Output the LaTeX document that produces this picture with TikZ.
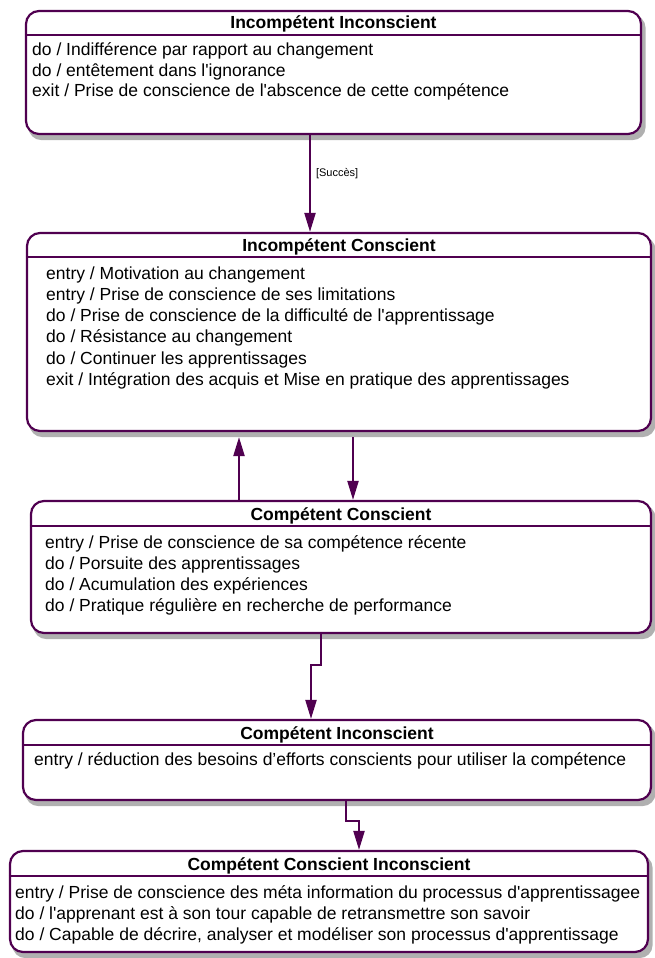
\documentclass[tikz,border=0pt]{standalone}
\usepackage{fontspec}
\setmainfont{Liberation Sans}[Ligatures=TeXOff]
\usetikzlibrary{arrows.meta,backgrounds}

\definecolor{umlline}{RGB}{80,0,80}
\definecolor{umlshadow}{RGB}{176,176,176}

\tikzset{
  state/.style={draw=umlline, line width=2.2pt, fill=white, rounded corners=13pt,
    inner sep=0pt},
  stateshadow/.style={fill=umlshadow, rounded corners=13pt},
  statetitle/.style={anchor=base, inner sep=0pt, font=\fontsize{17.5}{21}\selectfont\bfseries},
  activity/.style={anchor=base west, inner sep=0pt, font=\fontsize{17.5}{21}\selectfont},
  divider/.style={draw=umlline, line width=2.2pt},
  trans/.style={draw=umlline, line width=2.2pt, -{Triangle[length=19pt,width=11pt]}},
  guard/.style={inner sep=0pt, font=\fontsize{11}{13}\selectfont}
}

\begin{document}
\begin{tikzpicture}[x=1pt,y=-1pt]
\useasboundingbox (0,0) rectangle (654,958);

% ---------- states ----------
\node[state, minimum width=615pt, minimum height=123pt] (s1) at (333.5,72.5) {};
\node[state, minimum width=624pt, minimum height=198pt] (s2) at (339,332) {};
\node[state, minimum width=620pt, minimum height=132pt] (s3) at (341,567) {};
\node[state, minimum width=628pt, minimum height=80pt]  (s4) at (337,760) {};
\node[state, minimum width=638pt, minimum height=101pt] (s5) at (329,901.5) {};

% drop shadows behind every state
\begin{scope}[on background layer]
  \foreach \s in {s1,s2,s3,s4,s5}
    \fill[stateshadow] ([shift={(3.5pt,-5pt)}]\s.south west) rectangle ([shift={(3.5pt,-5pt)}]\s.north east);
\end{scope}

% ---------- title compartments ----------
\coordinate (h1) at (0,35);
\coordinate (h2) at (0,257);
\coordinate (h3) at (0,526);
\coordinate (h4) at (0,745);
\coordinate (h5) at (0,876);
\draw[divider] (s1.west |- h1) -- (s1.east |- h1);
\draw[divider] (s2.west |- h2) -- (s2.east |- h2);
\draw[divider] (s3.west |- h3) -- (s3.east |- h3);
\draw[divider] (s4.west |- h4) -- (s4.east |- h4);
\draw[divider] (s5.west |- h5) -- (s5.east |- h5);

\node[statetitle] (t1) at (333.5,29)  {Incompétent Inconscient};
\node[statetitle] (t2) at (339,251)   {Incompétent Conscient};
\node[statetitle] (t3) at (341,520)   {Compétent Conscient};
\node[statetitle] (t4) at (337,739)   {Compétent Inconscient};
\node[statetitle] (t5) at (329,870)   {Compétent Conscient Inconscient};

% ---------- internal activities ----------
\foreach \t [count=\i from 0] in {
  {do / Indifférence par rapport au changement},
  {do / entêtement dans l'ignorance},
  {exit / Prise de conscience de l'abscence de cette compétence}}
  \node[activity] (a1-\i) at (32,56+20*\i) {\t};

\foreach \t [count=\i from 0] in {
  {entry / Motivation au changement},
  {entry / Prise de conscience de ses limitations},
  {do / Prise de conscience de la difficulté de l'apprentissage},
  {do / Résistance au changement},
  {do / Continuer les apprentissages},
  {exit / Intégration des acquis et Mise en pratique des apprentissages}}
  \node[activity] (a2-\i) at (46,279+21.3*\i) {\t};

\foreach \t [count=\i from 0] in {
  {entry / Prise de conscience de sa compétence récente},
  {do / Porsuite des apprentissages},
  {do / Acumulation des expériences},
  {do / Pratique régulière en recherche de performance}}
  \node[activity] (a3-\i) at (45,548+21*\i) {\t};

\node[activity] (a4-0) at (34,765)
  {entry / réduction des besoins d’efforts conscients pour utiliser la compétence};

\foreach \t [count=\i from 0] in {
  {entry / Prise de conscience des méta information du processus d'apprentissagee},
  {do / l'apprenant est à son tour capable de retransmettre son savoir},
  {do / Capable de décrire, analyser et modéliser son processus d'apprentissage}}
  \node[activity] (a5-\i) at (15,898+21*\i) {\t};

% ---------- transitions ----------
\coordinate (c1) at (310,0);
\coordinate (cup) at (239,0);
\coordinate (cdown) at (353,0);
\coordinate (s2b) at ([yshift=-5pt]s2.south);
\coordinate (k1) at (321,665);
\coordinate (k2) at (311,665);
\coordinate (k3) at (346,821);
\coordinate (k4) at (359,821);

\draw[trans] (s1.south -| c1) -- node[guard, right=5pt, pos=0.4] {[Succès]} (s2.north -| c1);
\draw[trans] (s3.north -| cup) -- (s2b -| cup);
\draw[trans] (s2b -| cdown) -- (s3.north -| cdown);
\draw[trans] (s3.south -| k1) -- (k1) -- (k2) -- (s4.north -| k2);
\draw[trans] (s4.south -| k3) -- (k3) -- (k4) -- (s5.north -| k4);
\end{tikzpicture}
\end{document}
